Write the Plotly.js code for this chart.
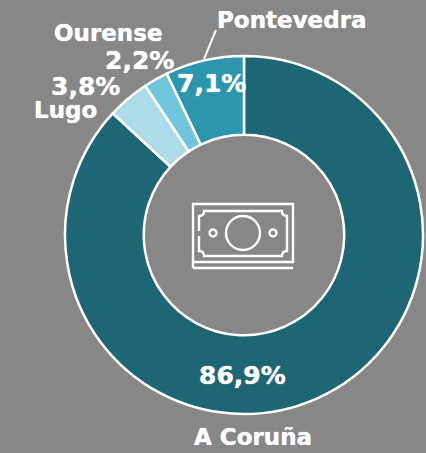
<!DOCTYPE html>
<html><head><meta charset="utf-8">
<script src="https://cdn.plot.ly/plotly-3.0.0.min.js"></script>
<style>html,body{margin:0;padding:0;background:#878787}</style></head>
<body><div id="c" style="width:426px;height:453px"></div>
<script>
const categories=["A Coruña","Lugo","Ourense","Pontevedra"];
const shares=[86.9,3.8,2.2,7.1];
const shareLabels=["86,9%","3,8%","2,2%","7,1%"];
const colors=["#1F6674","#ADDCE8","#70C5DA","#2D95AE"];
const W=426,H=453,BG="#878787";
const px=x=>x/W, py=y=>1-y/H;
function note(text,x,y,size){return {text:`<b>${text}</b>`,x:px(x),y:py(y),xref:"paper",yref:"paper",showarrow:false,xanchor:"center",yanchor:"middle",
 font:{family:"DejaVu Sans, Verdana, sans-serif",size:size,color:"#fff",weight:700,shadow:"0 0 1px #fff"}};}
const annotations=[
 note(categories[0],253,437,23),
 note(shareLabels[0],242,375,25),
 note(categories[1],65,110,23),
 note(shareLabels[1],85,87,25),
 note(categories[2],109,33,23),
 note(shareLabels[2],139,60,25),
 note(categories[3],292,20,23),
 note(shareLabels[3],211,83,25)
];
const line={color:"#fff",width:2.4};
function rect(x0,y0,x1,y1){return {type:"rect",xref:"paper",yref:"paper",x0:px(x0),x1:px(x1),y0:py(y0),y1:py(y1),line:line};}
function seg(x0,y0,x1,y1,l){return {type:"line",xref:"paper",yref:"paper",x0:px(x0),x1:px(x1),y0:py(y0),y1:py(y1),line:l||line};}
function circ(cx,cy,rx,ry){return {type:"circle",xref:"paper",yref:"paper",x0:px(cx-rx),x1:px(cx+rx),y0:py(cy+ry),y1:py(cy-ry),line:line};}
function plaque(){const l=199,r=287,t=211,b=256,c=5;
 const p=`M${l+c},${t} L${r-c},${t} Q${r-c},${t+c} ${r},${t+c} L${r},${b-c} Q${r-c},${b-c} ${r-c},${b} L${l+c},${b} Q${l+c},${b-c} ${l},${b-c} L${l},${t+c} Q${l+c},${t+c} ${l+c},${t} Z`;
 return {type:"path",xref:"paper",yref:"paper",xsizemode:"pixel",ysizemode:"pixel",xanchor:0,yanchor:1,path:p.replace(/(-?\d+),(-?\d+)/g,(m,a,b2)=>`${a},${-b2}`),line:line};}
const shapes=[
 seg(204,59,216,30,{color:"#fff",width:2}),
 rect(193,204,293,262),
 seg(193,262,193,268),
 seg(193,268,293,268),
 plaque(),
 seg(199,231,199,236,{color:BG,width:4}),
 circ(243,233,17,17),
 circ(213,233,3.5,3.5),
 circ(273,233,3.5,3.5)
];
Plotly.newPlot("c",[{
 type:"pie",labels:categories,values:shares,hole:0.56,sort:false,direction:"clockwise",rotation:0,
 marker:{colors:colors,line:{color:"#fff",width:2.5}},textinfo:"none",hoverinfo:"label+percent",
 domain:{x:[px(65),px(423)],y:[py(414),py(56)]}
}],{
 width:W,height:H,margin:{l:0,r:0,t:0,b:0},paper_bgcolor:BG,plot_bgcolor:BG,
 showlegend:false,annotations:annotations,shapes:shapes
},{displayModeBar:false,staticPlot:true});
</script></body></html>
